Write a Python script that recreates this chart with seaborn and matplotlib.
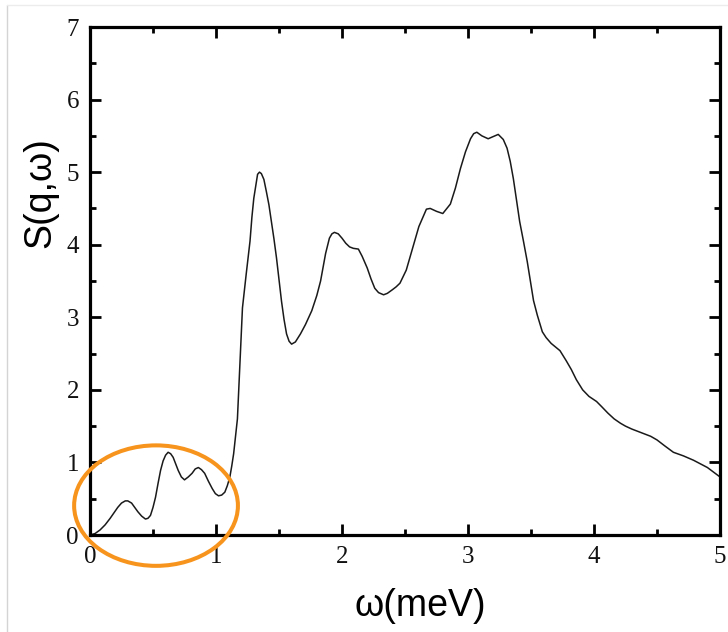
import numpy as np
import pandas as pd
import matplotlib
matplotlib.use("Agg")
import matplotlib.pyplot as plt
from matplotlib.patches import Ellipse
from matplotlib.lines import Line2D
from matplotlib.ticker import MultipleLocator
import seaborn as sns

# Data
omega = [0.00, 0.04, 0.08, 0.12, 0.16, 0.22, 0.25, 0.28, 0.30, 0.33, 0.355, 0.38,
         0.41, 0.44, 0.46, 0.48, 0.50, 0.52, 0.54, 0.56, 0.58, 0.60, 0.62, 0.64,
         0.66, 0.68, 0.70, 0.725, 0.75, 0.78, 0.81, 0.835, 0.86, 0.885, 0.91, 0.94,
         0.97, 0.995, 1.02, 1.045, 1.07, 1.09, 1.11, 1.125, 1.14, 1.17, 1.19, 1.21,
         1.24, 1.27, 1.285, 1.30, 1.33, 1.345, 1.36, 1.38, 1.40, 1.42, 1.44, 1.46,
         1.48, 1.50, 1.52, 1.54, 1.56, 1.58, 1.60, 1.63, 1.67, 1.71, 1.76, 1.80,
         1.83, 1.87, 1.90, 1.92, 1.94, 1.97, 2.00, 2.03, 2.06, 2.09, 2.13, 2.16,
         2.20, 2.23, 2.26, 2.29, 2.33, 2.36, 2.40, 2.43, 2.46, 2.51, 2.56, 2.61,
         2.67, 2.70, 2.75, 2.80, 2.86, 2.90, 2.94, 2.98, 3.02, 3.045, 3.07, 3.11,
         3.16, 3.20, 3.24, 3.28, 3.31, 3.335, 3.36, 3.385, 3.41, 3.44, 3.47, 3.495,
         3.52, 3.55, 3.59, 3.62, 3.66, 3.73, 3.78, 3.82, 3.86, 3.91, 3.96, 4.02,
         4.06, 4.11, 4.16, 4.21, 4.25, 4.30, 4.39, 4.45, 4.50, 4.56, 4.63, 4.71,
         4.79, 4.90, 5.00]
s_qw = [0.00, 0.02, 0.07, 0.14, 0.23, 0.38, 0.44, 0.47, 0.47, 0.44, 0.38, 0.32,
        0.26, 0.22, 0.23, 0.27, 0.38, 0.52, 0.71, 0.89, 1.02, 1.10, 1.14, 1.12,
        1.07, 0.98, 0.89, 0.80, 0.76, 0.80, 0.85, 0.91, 0.93, 0.90, 0.85, 0.74,
        0.64, 0.57, 0.54, 0.55, 0.59, 0.68, 0.80, 0.95, 1.12, 1.60, 2.35, 3.13,
        3.60, 4.05, 4.38, 4.64, 4.97, 5.00, 4.98, 4.90, 4.73, 4.55, 4.32, 4.08,
        3.82, 3.52, 3.22, 2.97, 2.77, 2.67, 2.63, 2.66, 2.77, 2.90, 3.09, 3.30,
        3.50, 3.88, 4.09, 4.15, 4.17, 4.15, 4.09, 4.02, 3.97, 3.95, 3.94, 3.84,
        3.68, 3.53, 3.40, 3.34, 3.31, 3.33, 3.38, 3.42, 3.47, 3.65, 3.95, 4.25,
        4.49, 4.50, 4.46, 4.43, 4.56, 4.78, 5.05, 5.28, 5.46, 5.53, 5.55, 5.50,
        5.46, 5.49, 5.52, 5.45, 5.33, 5.15, 4.91, 4.62, 4.32, 4.05, 3.77, 3.50,
        3.23, 3.03, 2.80, 2.72, 2.64, 2.54, 2.40, 2.28, 2.14, 2.00, 1.91, 1.84,
        1.77, 1.68, 1.60, 1.54, 1.50, 1.46, 1.40, 1.36, 1.31, 1.23, 1.14, 1.09,
        1.03, 0.93, 0.80]
x_ticks = [0, 1, 2, 3, 4, 5]
y_ticks = [0, 1, 2, 3, 4, 5, 6, 7]
x_label = "ω(meV)"
y_label = "S(q,ω)"

df = pd.DataFrame({"omega": omega, "S": s_qw})

sns.set_theme(style="white")
plt.rcParams["font.family"] = ["Liberation Serif", "DejaVu Serif"]

fig = plt.figure(figsize=(7.28, 6.32), dpi=100)
ax = fig.add_axes([90 / 728, 1 - 535 / 632, 630 / 728, 508 / 632])

sns.lineplot(data=df, x="omega", y="S", ax=ax, color="#1a1a1a", linewidth=1.1,
             sort=False, estimator=None)

ax.set_xlim(0, 5)
ax.set_ylim(0, 7)
ax.set_xticks(x_ticks)
ax.set_yticks(y_ticks)
ax.set_xticklabels([str(t) for t in x_ticks])
ax.set_yticklabels([str(t) for t in y_ticks])
ax.xaxis.set_minor_locator(MultipleLocator(0.5))
ax.yaxis.set_minor_locator(MultipleLocator(0.5))

ax.tick_params(which="both", direction="in", top=True, right=True,
               bottom=True, left=True, color="black")
ax.tick_params(which="major", length=8, width=2.0, labelsize=18,
               labelcolor="#111111", pad=8)
ax.tick_params(which="minor", length=4.5, width=2.0)

for sp in ax.spines.values():
    sp.set_visible(True)
    sp.set_color("black")
    sp.set_linewidth(2.3)

sans = ["Liberation Sans", "DejaVu Sans"]
ax.set_xlabel(x_label, fontsize=27, family=sans, color="black")
ax.set_ylabel(y_label, fontsize=27, family=sans, color="black")
ax.xaxis.set_label_coords(0.524, -0.105)
ax.yaxis.set_label_coords(-0.05, 0.675)

ell = Ellipse((0.524, 0.405), width=1.30, height=1.66, fill=False,
              edgecolor="#F7941D", linewidth=2.9, clip_on=False, zorder=5)
ax.add_patch(ell)

# faint frame of the original screenshot
fig.add_artist(Line2D([7 / 728, 7 / 728], [0, 1 - 5 / 632],
                      transform=fig.transFigure, color="#d4d4d4", linewidth=1.0))
fig.add_artist(Line2D([7 / 728, 1], [1 - 5 / 632, 1 - 5 / 632],
                      transform=fig.transFigure, color="#ececec", linewidth=1.0))

fig.savefig("out.png", dpi=100)
